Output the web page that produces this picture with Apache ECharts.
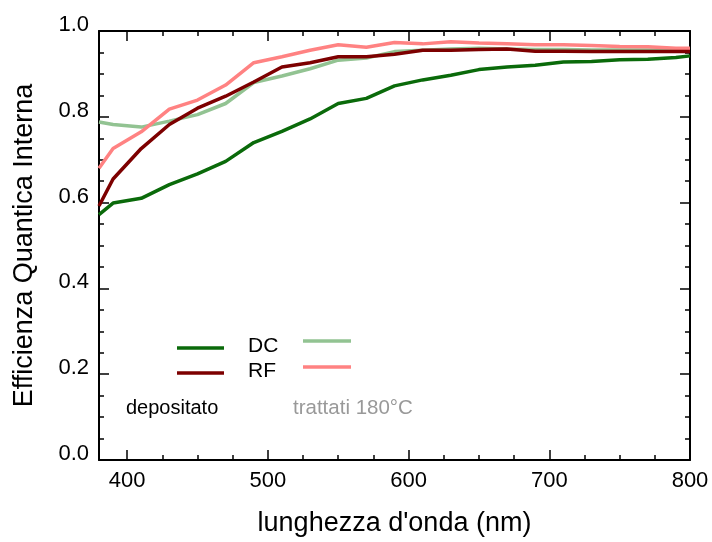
<!DOCTYPE html>
<html><head><meta charset="utf-8">
<script src="https://cdn.jsdelivr.net/npm/echarts@6/dist/echarts.min.js"></script>
<style>html,body{margin:0;padding:0;background:#fff}#c{width:712px;height:542px}</style>
</head><body><div id="c"></div>
<script>
const wavelength = [380,390,410,430,450,470,490,510,530,550,570,590,610,630,650,670,690,710,730,750,770,790,800];
const dcDepositato = [0.572,0.599,0.610,0.642,0.667,0.696,0.740,0.766,0.795,0.831,0.843,0.872,0.886,0.897,0.910,0.916,0.920,0.928,0.929,0.933,0.934,0.938,0.942];
const rfDepositato = [0.592,0.655,0.726,0.782,0.820,0.848,0.881,0.916,0.926,0.940,0.940,0.946,0.955,0.955,0.957,0.958,0.953,0.953,0.952,0.952,0.952,0.952,0.952];
const dcTrattati = [0.788,0.782,0.776,0.790,0.805,0.831,0.880,0.895,0.912,0.932,0.937,0.952,0.955,0.958,0.960,0.958,0.957,0.957,0.956,0.956,0.956,0.956,0.956];
const rfTrattati = [0.680,0.726,0.765,0.818,0.839,0.874,0.926,0.940,0.955,0.968,0.962,0.973,0.970,0.975,0.972,0.970,0.968,0.968,0.966,0.964,0.963,0.960,0.960];
const xMajorTicks = [400,500,600,700,800];
const xMinorTicks = [400,425,450,475,500,525,550,575,600,625,650,675,700,725,750,775,800];
const legendNames = ['DC','RF'];
const groupLabels = ['depositato','trattati 180°C'];

const FONT = '"Liberation Sans", Arial, sans-serif';
const colors = {dcDep:'#0a6a0a', rfDep:'#7d0000', dcTr:'#92c392', rfTr:'#ff8282'};

function pair(xs, ys){ return xs.map((x,i)=>[x, ys[i]]); }

const chart = echarts.init(document.getElementById('c'), null, {renderer:'canvas'});
const axisLineStyle = {color:'#000', width:2};
const tickStyle = {color:'#000', width:1.5};
function xTickAxis(pos, ticks, len, showLine){
  return {type:'value', min:380, max:800, position:pos,
    axisLine:{show:showLine, onZero:false, lineStyle:axisLineStyle},
    axisTick:{show:true, inside:true, length:len, customValues:ticks, lineStyle:tickStyle},
    axisLabel:{show:false}, splitLine:{show:false}};
}
chart.setOption({
  animation:false,
  backgroundColor:'#fff',
  grid:{left:99, right:22, top:31, bottom:76},
  xAxis:[
    {type:'value', min:380, max:800, position:'bottom',
     axisLine:{show:true, onZero:false, lineStyle:axisLineStyle},
     axisTick:{show:true, inside:true, length:10, customValues:xMajorTicks, lineStyle:tickStyle},
     axisLabel:{show:true, customValues:xMajorTicks, fontFamily:FONT, fontSize:22, color:'#000', margin:10},
     splitLine:{show:false},
     name:'lunghezza d\'onda (nm)', nameLocation:'middle', nameGap:50,
     nameTextStyle:{fontFamily:FONT, fontSize:27, color:'#000'}},
    xTickAxis('bottom', xMinorTicks, 5, false),
    xTickAxis('top', xMajorTicks, 10, true),
    xTickAxis('top', xMinorTicks, 5, false)
  ],
  yAxis:[
    {type:'value', min:0, max:1, interval:0.2, position:'left',
     axisLine:{show:true, onZero:false, lineStyle:axisLineStyle},
     axisTick:{show:true, inside:true, length:10, lineStyle:tickStyle},
     minorTick:{show:true, splitNumber:4, length:5, lineStyle:tickStyle},
     axisLabel:{fontFamily:FONT, fontSize:22, color:'#000', margin:10, verticalAlign:'bottom', lineHeight:12,
       formatter:v=>v.toFixed(1)},
     splitLine:{show:false}, minorSplitLine:{show:false},
     name:'Efficienza Quantica Interna', nameLocation:'middle', nameGap:61,
     nameTextStyle:{fontFamily:FONT, fontSize:27, color:'#000'}},
    {type:'value', min:0, max:1, interval:0.2, position:'right',
     axisLine:{show:true, onZero:false, lineStyle:axisLineStyle},
     axisTick:{show:true, inside:true, length:10, lineStyle:tickStyle},
     minorTick:{show:true, splitNumber:4, length:5, lineStyle:tickStyle},
     axisLabel:{show:false}, splitLine:{show:false}, minorSplitLine:{show:false}}
  ],
  series:[
    {name:'DC trattati', type:'line', data:pair(wavelength, dcTrattati), symbol:'none', lineStyle:{width:3.5, color:colors.dcTr}, itemStyle:{color:colors.dcTr}},
    {name:'RF trattati', type:'line', data:pair(wavelength, rfTrattati), symbol:'none', lineStyle:{width:3.5, color:colors.rfTr}, itemStyle:{color:colors.rfTr}},
    {name:'DC', type:'line', data:pair(wavelength, dcDepositato), symbol:'none', lineStyle:{width:3.5, color:colors.dcDep}, itemStyle:{color:colors.dcDep}},
    {name:'RF', type:'line', data:pair(wavelength, rfDepositato), symbol:'none', lineStyle:{width:3.5, color:colors.rfDep}, itemStyle:{color:colors.rfDep}}
  ],
  graphic:[
    {type:'line', shape:{x1:177,y1:348,x2:224,y2:348}, style:{stroke:colors.dcDep, lineWidth:3.5}},
    {type:'line', shape:{x1:177,y1:373,x2:224,y2:373}, style:{stroke:colors.rfDep, lineWidth:3.5}},
    {type:'line', shape:{x1:303,y1:341,x2:351,y2:341}, style:{stroke:colors.dcTr, lineWidth:3.5}},
    {type:'line', shape:{x1:303,y1:367,x2:351,y2:367}, style:{stroke:colors.rfTr, lineWidth:3.5}},
    {type:'text', left:248, top:336, style:{text:legendNames[0], font:'21px '+FONT, fill:'#000'}},
    {type:'text', left:248, top:361, style:{text:legendNames[1], font:'21px '+FONT, fill:'#000'}},
    {type:'text', left:126, top:398, style:{text:groupLabels[0], font:'20px '+FONT, fill:'#000'}},
    {type:'text', left:293, top:398, style:{text:groupLabels[1], font:'20.5px '+FONT, fill:'#999'}}
  ]
});
</script></body></html>
